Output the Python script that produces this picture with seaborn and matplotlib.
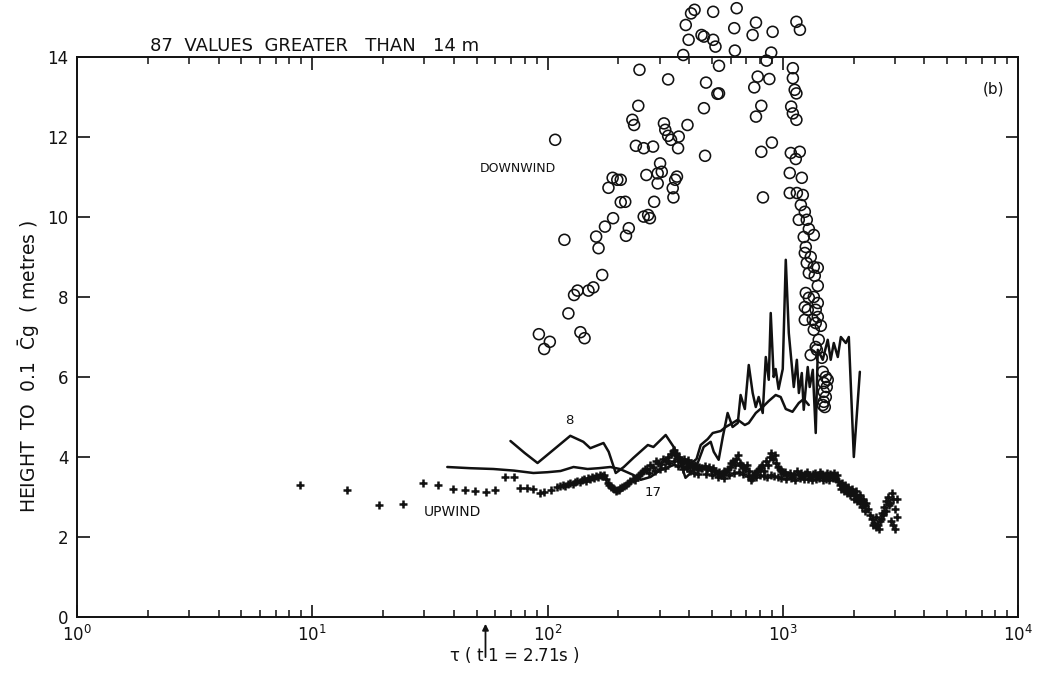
import numpy as np
import pandas as pd
import matplotlib
matplotlib.use("Agg")
import matplotlib.pyplot as plt
import seaborn as sns
from matplotlib.ticker import LogLocator, NullFormatter, FixedLocator

# ---------------- data ----------------
down_tau = [107.8, 118, 91.9, 102.3, 96.8, 138, 143.7, 122.7, 170.8, 129.7, 134.2, 149.3, 156.6,
            161, 164.8, 175.5, 190, 204.8, 214, 181.6, 189.2, 198, 204.8, 221.6, 215.6, 256.4,
            267.8, 272.5, 284, 237.5, 256.4, 281, 229.5, 233.4, 243.2, 263.2, 294, 301, 306, 294,
            340.6, 343, 349, 355, 312.6, 316.7, 325.7, 335, 361.3, 359, 393.6, 246, 325.7, 467.5,
            462.4, 472, 527.5, 535.8, 535.8, 377.6, 398, 387, 407.6, 421.7, 451.6, 462.4, 506,
            517.6, 506, 637, 622, 626, 769.5, 744.5, 905.6, 893, 853, 782.6, 877, 756.6, 810.6,
            769.5, 899, 810.6, 824, 1143, 1183, 1104, 1104, 1124, 1143, 1086, 1104, 1143,
            1082, 1136, 1181, 1071, 1205, 1071, 1148, 1217, 1194, 1241, 1170, 1265, 1291, 1228,
            1355, 1253, 1241, 1315, 1265, 1355, 1409, 1291, 1368, 1409, 1253, 1291, 1355, 1409,
            1241, 1277, 1381, 1241, 1342, 1409, 1381, 1452, 1355, 1422, 1381, 1466, 1315, 1396,
            1479, 1524, 1553, 1494, 1538, 1494, 1524, 1494, 1509, 1479]
down_h = [11.93, 9.43, 7.07, 6.88, 6.7, 7.12, 6.97, 7.59, 8.55, 8.05, 8.16, 8.16, 8.24,
          9.51, 9.22, 9.76, 9.97, 10.37, 10.38, 10.73, 10.98, 10.93, 10.93, 9.72, 9.53, 10.01,
          10.05, 9.97, 10.38, 11.78, 11.72, 11.76, 12.43, 12.3, 12.78, 11.05, 11.09, 11.34, 11.13, 10.84,
          10.72, 10.49, 10.93, 11.01, 12.34, 12.18, 12.03, 11.93, 12.01, 11.72, 12.3, 13.68, 13.44, 11.53,
          12.72, 13.36, 13.08, 13.09, 13.78, 14.05, 14.43, 14.8, 15.09, 15.18, 14.55, 14.51, 14.43,
          14.26, 15.13, 15.22, 14.72, 14.16, 14.86, 14.55, 14.63, 14.11, 13.91, 13.51, 13.45, 13.24, 12.78,
          12.51, 11.86, 11.63, 10.49, 14.88, 14.68, 13.72, 13.47, 13.18, 13.09, 12.76, 12.59, 12.43,
          11.6, 11.45, 11.63, 11.1, 10.98, 10.6, 10.6, 10.55, 10.3, 10.13, 9.93, 9.93, 9.7, 9.5,
          9.55, 9.25, 9.1, 9.0, 8.85, 8.75, 8.73, 8.6, 8.53, 8.28, 8.1, 7.98, 8.0, 7.85,
          7.75, 7.68, 7.68, 7.43, 7.43, 7.5, 7.35, 7.28, 7.18, 6.93, 6.75, 6.48, 6.55, 6.68,
          6.13, 6.0, 5.93, 5.85, 5.75, 5.63, 5.5, 5.38, 5.25, 5.3]

up_tau = [8.9, 14.1, 19.3, 24.4, 29.7, 34.4, 39.8, 44.4, 49.4, 55, 60, 66.2, 71.7, 76.7, 82.2,
          87.1, 92.5, 97, 103, 110,
          113, 116, 119, 122, 125, 128, 131, 134, 137, 140, 143, 146, 149, 152, 155, 158, 161,
          164, 167, 170, 173,
          177, 180, 183, 186, 189, 192, 195, 198, 201, 204,
          208, 212, 216, 220, 225, 230, 235, 240, 245, 250, 255, 260,
          265, 272, 280, 288, 296, 303, 310, 318, 326, 334, 340, 344, 348, 352, 358, 364, 370,
          376, 382, 388, 394, 400, 408, 416, 424, 432, 440, 448,
          270, 285, 300, 315, 330, 345, 360, 375, 390, 405, 420, 435,
          455, 465, 475, 485, 495, 505, 515, 525, 535, 545, 555, 565, 575, 585, 595, 605, 615,
          625, 635, 645, 655, 665, 675, 690, 705, 720, 731, 745, 760, 775, 790, 806, 820, 835,
          850, 865, 880, 895, 910, 925, 940, 955, 970, 985, 1000,
          470, 500, 530, 560, 590, 620, 650, 680, 710, 740, 770, 800, 830, 860, 890, 920, 950, 980,
          1020, 1045, 1070, 1095, 1120, 1145, 1170, 1195, 1220, 1245, 1270, 1295, 1320, 1345,
          1370, 1395, 1420, 1445, 1470, 1495, 1520, 1545, 1570, 1595, 1620, 1645, 1670, 1695,
          1030, 1080, 1130, 1180, 1230, 1280, 1330, 1380, 1430, 1480, 1530, 1580, 1630, 1680,
          1720, 1750, 1780, 1810, 1840, 1870, 1900, 1930, 1960, 1990, 2020, 2050, 2080, 2110,
          2140, 2170, 2200, 2230, 2260,
          1760, 1820, 1880, 1940, 2000, 2060, 2120, 2180, 2240,
          2300, 2350, 2400, 2450, 2500, 2550, 2600, 2650, 2700, 2750, 2800, 2850, 2900, 2950,
          3000, 3050, 2420, 2480, 2560, 2620, 2680, 2740, 2820, 2880, 2940, 3000, 3060]
up_h = [3.3, 3.18, 2.8, 2.82, 3.35, 3.3, 3.2, 3.17, 3.15, 3.13, 3.18, 3.5, 3.5, 3.23, 3.22,
        3.2, 3.1, 3.13, 3.18, 3.25,
        3.28, 3.3, 3.27, 3.33, 3.35, 3.32, 3.38, 3.4, 3.37, 3.42, 3.45, 3.41, 3.47, 3.44, 3.5,
        3.48, 3.52, 3.49, 3.55, 3.53, 3.56,
        3.45, 3.35, 3.3, 3.25, 3.22, 3.2, 3.15, 3.18, 3.17, 3.22,
        3.25, 3.28, 3.3, 3.35, 3.4, 3.45, 3.42, 3.5, 3.55, 3.6, 3.65, 3.7,
        3.7, 3.8, 3.75, 3.9, 3.85, 3.82, 3.95, 3.9, 4.0, 4.08, 4.15, 4.18, 4.05, 4.1, 3.95, 4.0,
        3.92, 3.85, 3.95, 3.88, 3.93, 3.8, 3.85, 3.75, 3.8, 3.7, 3.75, 3.72,
        3.6, 3.65, 3.7, 3.72, 3.85, 3.9, 3.78, 3.7, 3.72, 3.65, 3.6, 3.58,
        3.72, 3.78, 3.7, 3.75, 3.68, 3.72, 3.65, 3.6, 3.62, 3.55, 3.6, 3.65, 3.62, 3.7, 3.75,
        3.85, 3.9, 3.8, 3.95, 4.05, 3.85, 3.8, 3.75, 3.7, 3.8, 3.65, 3.42, 3.55, 3.6, 3.65,
        3.7, 3.75, 3.8, 3.65, 3.9, 3.8, 4.0, 4.1, 3.95, 4.05, 3.85, 3.75, 3.7, 3.65, 3.6,
        3.58, 3.55, 3.5, 3.48, 3.55, 3.6, 3.62, 3.58, 3.52, 3.47, 3.5, 3.55, 3.52, 3.5, 3.55,
        3.52, 3.5, 3.48,
        3.62, 3.55, 3.6, 3.5, 3.58, 3.65, 3.55, 3.6, 3.52, 3.58, 3.62, 3.55, 3.5, 3.58,
        3.6, 3.52, 3.55, 3.62, 3.58, 3.5, 3.55, 3.6, 3.52, 3.58, 3.55, 3.6, 3.5, 3.55,
        3.45, 3.48, 3.42, 3.47, 3.44, 3.46, 3.42, 3.45, 3.48, 3.43, 3.45, 3.42, 3.47, 3.44,
        3.4, 3.3, 3.35, 3.25, 3.3, 3.2, 3.25, 3.15, 3.2, 3.1, 3.05, 3.15, 3.0, 2.95,
        3.05, 2.9, 2.95, 2.8, 2.85,
        3.2, 3.15, 3.1, 3.05, 2.95, 2.9, 2.85, 2.75, 2.65,
        2.7, 2.55, 2.45, 2.35, 2.5, 2.3, 2.4, 2.6, 2.75, 2.9, 3.0, 2.85, 3.1, 2.95,
        2.7, 2.5, 2.3, 2.25, 2.2, 2.45, 2.55, 2.65, 2.8, 2.4, 2.3, 2.2, 2.95]

line8_tau = [69.6, 80, 90.7, 106, 125, 142, 152, 173, 182, 195, 211, 232, 267, 282, 318, 344,
             368, 386, 406, 435, 461, 494, 509, 534, 556, 583, 612, 644, 662, 690, 717, 745,
             768, 790, 822, 847, 872, 889, 915, 933, 960, 1000, 1030, 1061, 1114, 1148, 1171,
             1205, 1228, 1277, 1302, 1342, 1381, 1409, 1479, 1553, 1599, 1648, 1714, 1766,
             1854, 1909, 2005, 2127]
line8_h = [4.4, 4.1, 3.85, 4.18, 4.53, 4.38, 4.22, 4.35, 4.13, 3.6, 3.75, 3.98, 4.3, 4.25, 4.55,
           4.25, 3.85, 3.48, 3.6, 3.85, 4.25, 4.38, 4.13, 3.93, 4.5, 5.1, 4.75, 4.85, 5.55, 5.2,
           6.3, 5.6, 5.25, 5.5, 5.1, 6.5, 5.93, 7.6, 6.0, 6.2, 5.7, 6.2, 8.93, 7.1, 5.75, 6.43,
           5.6, 6.1, 5.18, 6.25, 5.75, 6.18, 4.6, 6.68, 6.43, 6.93, 6.43, 6.85, 6.5, 7.0,
           6.85, 7.0, 4.0, 6.13]

line17_tau = [37.5, 47, 58.9, 72, 87.1, 100, 113.6, 129, 148, 165, 185, 203, 232, 249, 274,
              303, 344, 390, 430, 448, 480, 504, 545, 572, 612, 644, 690, 717, 768, 822, 872,
              933, 980, 1030, 1100, 1170, 1228, 1290]
line17_h = [3.75, 3.72, 3.7, 3.66, 3.6, 3.62, 3.65, 3.75, 3.7, 3.72, 3.75, 3.7, 3.55, 3.43, 3.5,
            3.68, 3.8, 3.75, 3.95, 4.3, 4.45, 4.6, 4.65, 4.75, 4.85, 4.93, 4.8, 4.85, 5.1, 5.25,
            5.4, 5.55, 5.5, 5.2, 5.13, 5.35, 5.45, 5.3]

xtick_vals = [1, 10, 100, 1000, 10000]
xtick_labels = [r"$10^0$", r"$10^1$", r"$10^2$", r"$10^3$", r"$10^4$"]
ytick_vals = [0, 2, 4, 6, 8, 10, 12, 14]

# ---------------- figure ----------------
sns.set_style("ticks")
plt.rcParams['font.family'] = ['DejaVu Sans']
plt.rcParams['mathtext.default'] = 'regular'

fig, ax = plt.subplots(figsize=(10.43, 6.74), dpi=100)
fig.subplots_adjust(left=77/1043, right=1018/1043, top=1 - 57/674, bottom=1 - 617/674)

ink = "#111111"

down_df = pd.DataFrame({"tau": down_tau, "h": down_h})
up_df = pd.DataFrame({"tau": up_tau, "h": up_h})
l8_df = pd.DataFrame({"tau": line8_tau, "h": line8_h})
l17_df = pd.DataFrame({"tau": line17_tau, "h": line17_h})

sns.lineplot(data=l8_df, x="tau", y="h", sort=False, estimator=None, color=ink, lw=1.8, ax=ax)
sns.lineplot(data=l17_df, x="tau", y="h", sort=False, estimator=None, color=ink, lw=1.8, ax=ax)

sns.scatterplot(data=up_df, x="tau", y="h", marker="+", s=32, color=ink, linewidth=1.8,
                ax=ax, zorder=3)
sns.scatterplot(data=down_df, x="tau", y="h", marker="o", s=62, facecolor="none",
                edgecolor=ink, linewidth=1.15, ax=ax, clip_on=False, zorder=4)

ax.set_xscale("log")
ax.set_xlim(1, 10000)
ax.set_ylim(0, 14)

ax.xaxis.set_major_locator(FixedLocator(xtick_vals))
ax.set_xticklabels(xtick_labels)
ax.xaxis.set_minor_locator(LogLocator(base=10, subs=np.arange(2, 10)))
ax.xaxis.set_minor_formatter(NullFormatter())
ax.set_yticks(ytick_vals)
ax.set_yticklabels([str(v) for v in ytick_vals])

ax.tick_params(which="both", direction="in", top=True, right=True, colors=ink)
ax.tick_params(which="major", length=9, width=1.2, labelsize=12, pad=6)
ax.tick_params(which="minor", length=5, width=1.1)
for s in ax.spines.values():
    s.set_visible(True)
    s.set_linewidth(1.4)
    s.set_color(ink)

ax.set_xlabel(r"$\tau$ ( t 1 = 2.71s )", fontsize=12, color=ink)
ax.xaxis.set_label_coords(0.465, -0.05)
ax.set_ylabel(r"HEIGHT  TO  0.1  $\bar{\mathrm{C}}$g  ( metres )", fontsize=13.5, color=ink)
ax.yaxis.set_label_coords(-0.037, 0.447)

ax.text(2.05, 1.004, "87  VALUES  GREATER   THAN   14 m", transform=ax.get_xaxis_transform(),
        fontsize=13, ha="left", va="bottom", color=ink)
ax.text(7900, 13.2, "(b)", fontsize=11, ha="center", va="center", color=ink)
ax.text(75, 11.2, "DOWNWIND", fontsize=9, ha="center", va="center", color=ink)
ax.text(39.4, 2.63, "UPWIND", fontsize=10, ha="center", va="center", color=ink)
ax.text(124, 4.9, "8", fontsize=9.5, ha="center", va="center", color=ink)
ax.text(280, 3.1, "17", fontsize=9.5, ha="center", va="center", color=ink)

ax.annotate("", xy=(54.5, -0.1), xycoords="data", xytext=(0, -28), textcoords="offset points",
            arrowprops=dict(arrowstyle="-|>", color=ink, lw=1.3, mutation_scale=9),
            annotation_clip=False)

fig.savefig("out.png", dpi=100, facecolor="white")
